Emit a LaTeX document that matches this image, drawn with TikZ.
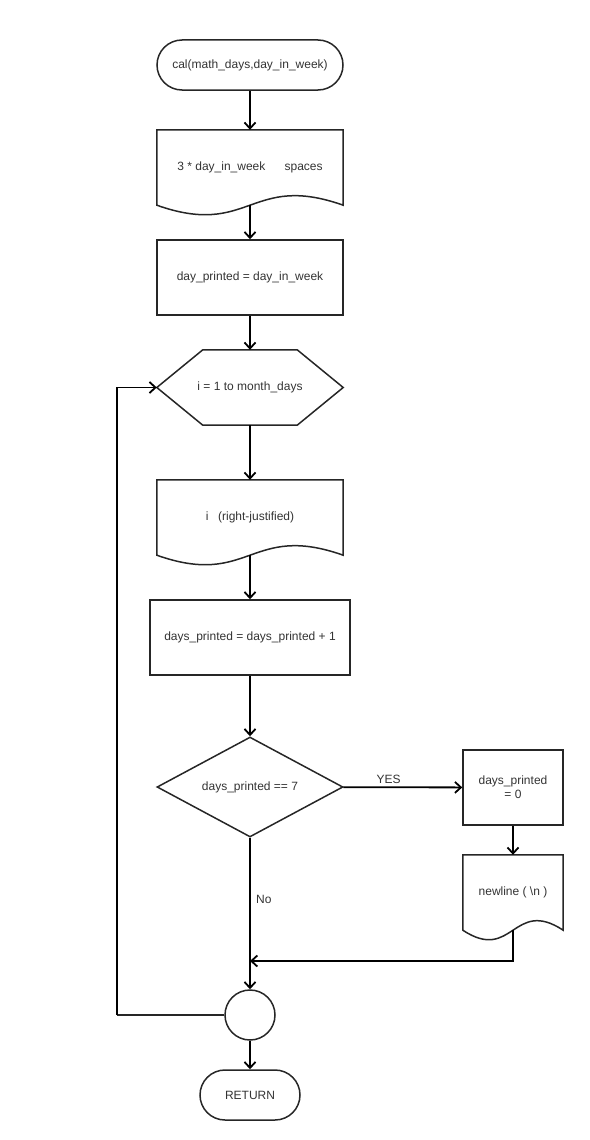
\documentclass[tikz,border=0pt]{standalone}
\usepackage{fontspec}
\setmainfont{Liberation Sans}
\usetikzlibrary{shapes.geometric,arrows.meta,calc}

\definecolor{lineclr}{HTML}{262626}
\definecolor{textclr}{HTML}{333333}

\tikzset{
  outline/.style={draw=lineclr, line width=1.5pt},
  flow/.style={draw=black, line width=1.8pt, -{Straight Barb[length=6pt,width=11pt]}},
  plain/.style={draw=lineclr, line width=1.8pt},
  procbox/.style={outline, minimum width=186, minimum height=75, inner sep=0pt},
  docbox/.style={minimum width=186, minimum height=75, inner sep=0pt},
  termbox/.style={outline, rounded corners=25pt, minimum width=186, minimum height=50, inner sep=0pt},
  decbox/.style={outline, diamond, aspect=1.86, minimum width=186, minimum height=100, inner sep=0pt},
}

% document outline: flat top, wavy bottom
\newcommand{\docoutline}[1]{%
  \draw[outline] (#1.north west) -- (#1.north east) -- (#1.south east)
    .. controls ($(#1.south)+(0,-33)$) and ($(#1.south)+(0,33)$) .. (#1.south west) -- cycle;}

\begin{document}
\begin{tikzpicture}[x=1pt, y=-1pt, font=\fontsize{12}{14}\selectfont, text=textclr]

    \useasboundingbox (0,0) rectangle (589,1140);

    % main column
    \node[termbox] (start) at (250,65) {cal(math\_days,day\_in\_week)};
    \node[docbox] (spaces) at (250,167.5) {3 * day\_in\_week\hspace{1.6em}spaces};
    \docoutline{spaces}
    \node[procbox] (init) at (250,277.5) {day\_printed = day\_in\_week};

    % loop header (hexagon)
    \node[docbox] (loop) at (250,387.5) {i = 1 to month\_days};
    \draw[outline] (loop.west) -- ($(loop.north west)+(46,0)$) -- ($(loop.north east)+(-46,0)$)
      -- (loop.east) -- ($(loop.south east)+(-46,0)$) -- ($(loop.south west)+(46,0)$) -- cycle;

    \node[docbox] (printi) at (250,517.5) {i\hspace{0.8em}(right-justified)};
    \docoutline{printi}
    \node[procbox, minimum width=200] (count) at (250,637.5) {days\_printed = days\_printed + 1};
    \node[decbox] (check) at (250,787) {days\_printed == 7};

    % YES branch
    \node[procbox, minimum width=100, align=center] (reset) at (513,787.5) {days\_printed\\= 0};
    \node[docbox, minimum width=100] (newline) at (513,892.5) {newline ( \textbackslash n )};
    \docoutline{newline}

    \node[outline, circle, minimum size=50, inner sep=0pt] (join) at (250,1015) {};
    \node[termbox, minimum width=100] (ret) at (250,1095) {RETURN};

    \coordinate (merge) at (250,961);
    \coordinate (back) at (117,1015);

    % connectors
    \draw[flow] (start) -- (spaces);
    \draw[flow] (spaces.south) -- (init);
    \draw[flow] (init) -- (loop);
    \draw[flow] (loop) -- (printi);
    \draw[flow] (printi.south) -- (count);
    \draw[flow] (count) -- (check);
    \draw[flow] (check) -- (reset) node[pos=0.38, above=-1pt] {YES};
    \draw[flow] (reset) -- (newline);
    \draw[flow] (newline.south) |- (merge);
    \draw[flow] (check) -- (join) node[pos=0.41, right=2pt] {No};
    \draw[flow] (join) -- (ret);
    \draw[plain] (join.west) -- (back);
    \draw[flow] (back) |- (loop.west);

\end{tikzpicture}
\end{document}
